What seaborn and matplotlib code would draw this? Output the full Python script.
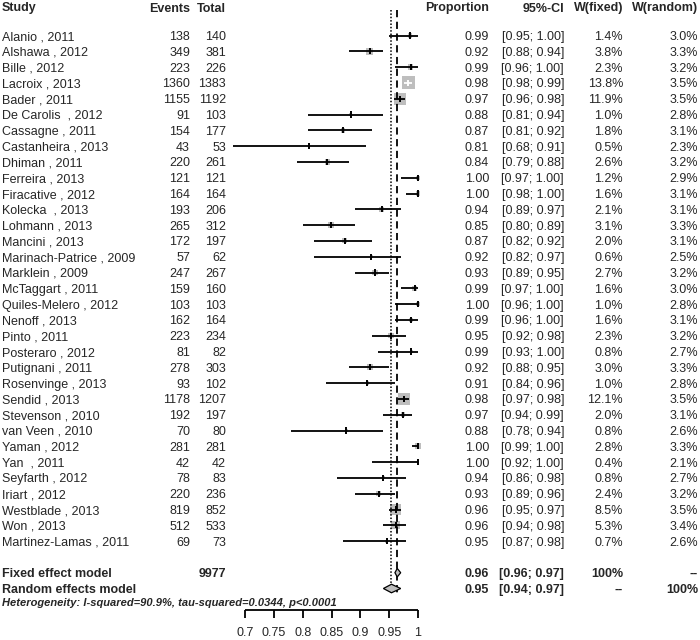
import numpy as np
import pandas as pd
import matplotlib
matplotlib.use("Agg")
import matplotlib.pyplot as plt
import seaborn as sns
from matplotlib import transforms
from matplotlib.patches import Polygon

studies = [
    "Alanio , 2011", "Alshawa , 2012", "Bille , 2012", "Lacroix , 2013", "Bader , 2011",
    "De Carolis  , 2012", "Cassagne , 2011", "Castanheira , 2013", "Dhiman , 2011",
    "Ferreira , 2013", "Firacative , 2012", "Kolecka  , 2013", "Lohmann , 2013",
    "Mancini , 2013", "Marinach-Patrice , 2009", "Marklein , 2009", "McTaggart , 2011",
    "Quiles-Melero , 2012", "Nenoff , 2013", "Pinto , 2011", "Posteraro , 2012",
    "Putignani , 2011", "Rosenvinge , 2013", "Sendid , 2013", "Stevenson , 2010",
    "van Veen , 2010", "Yaman , 2012", "Yan  , 2011", "Seyfarth , 2012", "Iriart , 2012",
    "Westblade , 2013", "Won , 2013", "Martinez-Lamas , 2011",
]
events = [138, 349, 223, 1360, 1155, 91, 154, 43, 220, 121, 164, 193, 265, 172, 57, 247,
          159, 103, 162, 223, 81, 278, 93, 1178, 192, 70, 281, 42, 78, 220, 819, 512, 69]
totals = [140, 381, 226, 1383, 1192, 103, 177, 53, 261, 121, 164, 206, 312, 197, 62, 267,
          160, 103, 164, 234, 82, 303, 102, 1207, 197, 80, 281, 42, 83, 236, 852, 533, 73]
proportion = [0.986, 0.916, 0.987, 0.983, 0.969, 0.883, 0.870, 0.811, 0.843, 1.000, 1.000,
              0.937, 0.849, 0.873, 0.919, 0.925, 0.994, 1.000, 0.988, 0.953, 0.988, 0.917,
              0.912, 0.976, 0.974, 0.876, 1.000, 1.000, 0.940, 0.932, 0.961, 0.961, 0.946]
ci_lower = [0.95, 0.88, 0.96, 0.976, 0.958, 0.81, 0.81, 0.68, 0.79, 0.97, 0.98, 0.89, 0.80,
            0.82, 0.82, 0.89, 0.97, 0.96, 0.96, 0.92, 0.93, 0.88, 0.84, 0.966, 0.94, 0.78,
            0.99, 0.92, 0.86, 0.89, 0.95, 0.94, 0.87]
ci_upper = [1.00, 0.94, 1.00, 0.989, 0.978, 0.94, 0.92, 0.91, 0.88, 1.00, 1.00, 0.97, 0.89,
            0.92, 0.97, 0.95, 1.00, 1.00, 1.00, 0.98, 1.00, 0.95, 0.96, 0.984, 0.99, 0.94,
            1.00, 1.00, 0.98, 0.96, 0.97, 0.98, 0.98]
w_fixed = [1.4, 3.8, 2.3, 13.8, 11.9, 1.0, 1.8, 0.5, 2.6, 1.2, 1.6, 2.1, 3.1, 2.0, 0.6, 2.7,
           1.6, 1.0, 1.6, 2.3, 0.8, 3.0, 1.0, 12.1, 2.0, 0.8, 2.8, 0.4, 0.8, 2.4, 8.5, 5.3, 0.7]
w_random = [3.0, 3.3, 3.2, 3.5, 3.5, 2.8, 3.1, 2.3, 3.2, 2.9, 3.1, 3.1, 3.3, 3.1, 2.5, 3.2,
            3.0, 2.8, 3.1, 3.2, 2.7, 3.3, 2.8, 3.5, 3.1, 2.6, 3.3, 2.1, 2.7, 3.2, 3.5, 3.4, 2.6]

total_n = 9977
fixed_est, fixed_lo, fixed_hi = 0.964, 0.96, 0.97
random_est, random_lo, random_hi = 0.954, 0.94, 0.97
heterogeneity = "Heterogeneity: I-squared=90.9%, tau-squared=0.0344, p<0.0001"
x_ticks = [0.7, 0.75, 0.8, 0.85, 0.9, 0.95, 1.0]

df = pd.DataFrame({
    "study": studies, "events": events, "total": totals, "prop": proportion,
    "lo": ci_lower, "hi": ci_upper, "wf": w_fixed, "wr": w_random,
})
df["row"] = np.arange(len(df))

# layout in pixels of a 700x640 canvas
W, H = 700, 640
px = 0.3 / 173          # data units per pixel along x
row_h = 15.8
top = 35.5
fs = 9

sns.set_theme(style="white")
plt.rcParams["font.family"] = ["Liberation Sans", "DejaVu Sans"]

fig = plt.figure(figsize=(7, 6.4), dpi=100)
ax = fig.add_axes([0, 0, 1, 1])
ax.set_xlim(0.7 - 245 * px, 0.7 + (W - 245) * px)
ax.set_ylim((H - top) / row_h, -top / row_h)
ax.axis("off")

# squares, area ~ fixed weight
sq_scale = 6.35
sns.scatterplot(data=df, x="prop", y="row", size="wf",
                sizes=(sq_scale * 0.4, sq_scale * 13.8), size_norm=(0.4, 13.8),
                marker="s", color="#BEBEBE", linewidth=0, legend=False, ax=ax, zorder=2)

# white inner line when the CI sits inside the square
half = np.sqrt(sq_scale * df["wf"]) * (100 / 72) / 2 * px * 0.9
inside = ((df["prop"] - df["lo"]) <= half) & ((df["hi"] - df["prop"]) <= half)
cols = np.where(inside, "white", "black")
ax.hlines(df["row"], df["lo"], df["hi"], colors=cols, lw=1.3, zorder=3)
ax.vlines(df["prop"], df["row"] - 0.2, df["row"] + 0.2, colors=cols, lw=1.4, zorder=3)

fixed_row, random_row = len(df) + 1, len(df) + 2

# reference lines
ax.vlines(fixed_est, -1.6, random_row + 0.35, color="black", lw=1.3,
          linestyles=(0, (4, 2.5)), zorder=4)
ax.vlines(random_est, -1.6, random_row + 0.35, color="black", lw=1.1,
          linestyles=(0, (1, 1.2)), zorder=4)

# diamonds
dh = 0.27
for est, lo, hi, r in [(fixed_est, fixed_lo, fixed_hi, fixed_row),
                       (random_est, random_lo, random_hi, random_row)]:
    ax.add_patch(Polygon([(lo, r), (est, r - dh), (hi, r), (est, r + dh)],
                         closed=True, facecolor="#BEBEBE", edgecolor="black",
                         lw=0.9, zorder=5))

# x axis drawn by hand
axis_y = (610 - top) / row_h
tick_y = (618 - top) / row_h
lab_y = (632 - top) / row_h
ax.hlines(axis_y, x_ticks[0], x_ticks[-1], color="black", lw=1.3)
ax.vlines(x_ticks, axis_y, tick_y, color="black", lw=1.3)
for t in x_ticks:
    ax.text(t, lab_y, f"{t:g}", ha="center", va="center_baseline", fontsize=fs)

# table columns
tr = transforms.blended_transform_factory(ax.transAxes, ax.transData)


def put(xp, y, s, ha="right", bold=False, **kw):
    ax.text(xp / W, y, s, transform=tr, ha=ha, va="center_baseline", fontsize=fs,
            fontweight="bold" if bold else "normal", **kw)


head_y = (7 - top) / row_h
put(2, head_y, "Study", ha="left", bold=True)
put(190, head_y, "Events", bold=True)
put(226, head_y, "Total", bold=True)
put(489, head_y, "Proportion", bold=True)
put(564, head_y, "95%-CI", bold=True)
put(623, head_y, "W(fixed)", bold=True)
put(698, head_y, "W(random)", bold=True)

for _, d in df.iterrows():
    r = d["row"]
    put(2, r, d["study"], ha="left")
    put(190, r, f"{d['events']:.0f}")
    put(226, r, f"{d['total']:.0f}")
    put(489, r, f"{d['prop']:.2f}")
    put(564, r, f"[{d['lo']:.2f}; {d['hi']:.2f}]")
    put(623, r, f"{d['wf']:.1f}%")
    put(698, r, f"{d['wr']:.1f}%")

put(2, fixed_row, "Fixed effect model", ha="left", bold=True)
put(226, fixed_row, f"{total_n}", bold=True)
put(489, fixed_row, f"{fixed_est:.2f}", bold=True)
put(564, fixed_row, f"[{fixed_lo:.2f}; {fixed_hi:.2f}]", bold=True)
put(623, fixed_row, "100%", bold=True)
put(698, fixed_row, "--", bold=True)

put(2, random_row, "Random effects model", ha="left", bold=True)
put(489, random_row, f"{random_est:.2f}", bold=True)
put(564, random_row, f"[{random_lo:.2f}; {random_hi:.2f}]", bold=True)
put(623, random_row, "--", bold=True)
put(698, random_row, "100%", bold=True)

ax.text(2 / W, (602 - top) / row_h, heterogeneity, transform=tr, ha="left",
        va="center_baseline", fontsize=8.0, fontweight="bold", fontstyle="italic")

fig.savefig("out.png", dpi=100)
